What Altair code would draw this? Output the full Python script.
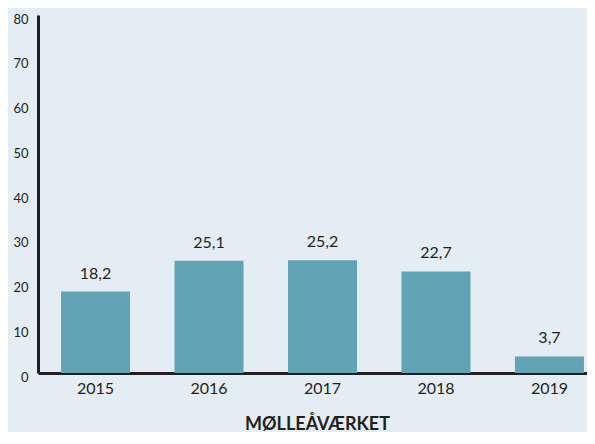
import altair as alt
import pandas as pd

years = ["2015", "2016", "2017", "2018", "2019"]
values = [18.2, 25.1, 25.2, 22.7, 3.7]
labels = [f"{v:.1f}".replace(".", ",") for v in values]
y_ticks = [0, 10, 20, 30, 40, 50, 60, 70, 80]

df = pd.DataFrame({"year": years, "value": values, "label": labels})

FONT = "Lato"
x = alt.X(
    "year:N",
    sort=years,
    scale=alt.Scale(range=[0, 569], paddingInner=0.392, paddingOuter=0.203),
    axis=alt.Axis(
        title="MØLLEÅVÆRKET",
        titleFont=FONT,
        titleFontSize=18,
        titleFontWeight="bold",
        titleColor="#231f20",
        titleX=279,
        titleY=56,
        titleBaseline="alphabetic",
        labelAngle=0,
        labelFont=FONT,
        labelFontSize=16,
        labelColor="#231f20",
        labelPadding=7,
        ticks=False,
        domainColor="#231f20",
        domainWidth=3,
    ),
)

bars = alt.Chart(df).mark_bar(color="#62a3b5").encode(
    x=x,
    y=alt.Y(
        "value:Q",
        scale=alt.Scale(domain=[0, 80], nice=False),
        axis=alt.Axis(
            title=None,
            values=y_ticks,
            grid=False,
            ticks=False,
            labelFont=FONT,
            labelFontSize=13,
            labelColor="#231f20",
            labelPadding=10,
            labelBaseline="top",
            labelOffset=-2,
            domainColor="#231f20",
            domainWidth=3,
        ),
    ),
)

text = alt.Chart(df).mark_text(
    font=FONT, fontSize=16, color="#231f20", baseline="middle", dy=-18
).encode(x=alt.X("year:N", sort=years), y="value:Q", text="label:N")

chart = (
    (bars + text)
    .properties(
        width=549,
        height=358,
        background="#e4edf3",
        padding={"left": 30, "top": 7, "right": 0, "bottom": 59},
        autosize=alt.AutoSizeParams(type="none"),
    )
    .configure_view(stroke=None)
)

chart.save("out.html", embed_options={"renderer": "svg", "actions": False})
